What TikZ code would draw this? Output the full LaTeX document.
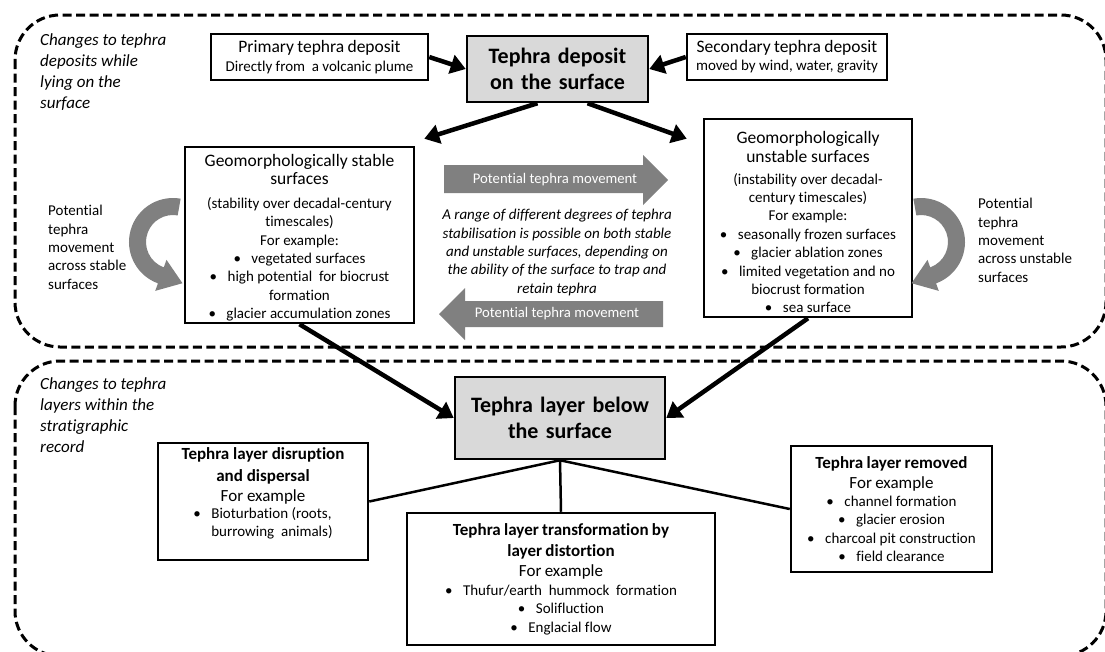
\documentclass[tikz,border=0pt]{standalone}
\usepackage{fontspec}
\setmainfont{Carlito}[Ligatures=NoCommon]
\usetikzlibrary{arrows.meta,calc}

\definecolor{boxgray}{HTML}{D9D9D9}
\definecolor{movegray}{HTML}{808080}

\newcommand\hdfont{\fontsize{17.5}{19.5}\selectfont}
\newcommand\bdfont{\fontsize{15}{18.4}\selectfont}
\newcommand\exfont{\fontsize{17}{20}\selectfont}
\newcommand\bgfont{\fontsize{22}{26}\selectfont\bfseries}
\newcommand\scfont{\itshape\fontsize{17}{21}\selectfont}
\newcommand\itm{\textbullet\hspace{0.7em}}

\tikzset{
  box/.style={draw, line width=2.5pt, align=center, inner sep=0pt},
  mainbox/.style={box, fill=boxgray, font=\bgfont},
  sized/.style 2 args={minimum width=#1pt, text width=#1pt, minimum height=#2pt},
  region/.style={line width=3pt, dash pattern=on 9pt off 4.5pt, rounded corners=45pt},
  feed/.style={line width=4.5pt, -{Triangle[length=15pt,width=19pt]}},
  branch/.style={line width=2.5pt},
  note/.style={inner sep=0pt, align=left, anchor=north west},
  movetext/.style={text=white, inner sep=0pt, font=\fontsize{14.7}{17}\selectfont},
}

\begin{document}
\begin{tikzpicture}[x=1pt,y=-1pt]
  \useasboundingbox (0,0) rectangle (1105,651);
  % \draw[help lines, step=50] (0,0) grid (1105,651);

  % the two stages
  \draw[region] (15,15) rectangle (1106,347);
  \draw[region] (15,361) rectangle (1106,656);
  \draw (40,33) node[note, font=\scfont] (surfnote) {Changes to tephra\\ deposits while\\ lying on the\\ surface};
  \draw (40,377) node[note, font=\scfont] (stratnote) {Changes to tephra\\ layers within the\\ stratigraphic\\ record};

  % deposition
  \draw (319.5,57) node[box, sized={217}{46}] (primary) {{\hdfont Primary tephra deposit\par}{\bdfont Directly from\ \ a volcanic plume\par}};
  \draw (557.5,69) node[mainbox, sized={181}{66}] (topgrey) {Tephra deposit\\ on the surface};
  \draw (787,57) node[box, sized={200}{46}] (secondary) {{\hdfont Secondary tephra deposit\par}{\bdfont moved by wind, water, gravity\par}};

  % surfaces
  \draw (299.5,235) node[box, minimum width=229pt, minimum height=176pt] (stable) {\parbox[c][176pt][c]{229pt}{\centering\vspace*{6pt}{\fontsize{17.5}{18}\selectfont Geomorphologically stable\\ surfaces\par}\vspace{5pt}{\bdfont (stability over decadal-century\\ timescales)\\ For example:\\ \itm vegetated surfaces\\ \itm high potential\ \ for biocrust\\ formation\\ \itm glacier accumulation zones\par}}};
  \draw (808,218) node[box, minimum width=208pt, minimum height=198pt] (unstable) {\parbox[c][198pt][c]{208pt}{\centering\vspace*{8pt}{\hdfont Geomorphologically\\ unstable surfaces\par}\vspace{3pt}{\bdfont (instability over decadal-\\ century timescales)\\ For example:\\ \itm seasonally frozen surfaces\\ \itm glacier ablation zones\\ \itm limited vegetation and no\\ biocrust formation\\ \itm sea surface\par}}};

  \fill[movegray] (444,165) -- (643,165) -- (643,155) -- (668,180) -- (643,205) -- (643,193) -- (444,193) -- cycle;
  \draw (555,180) node[movetext] (moveright) {Potential tephra movement};
  \fill[movegray] (663,301) -- (465,301) -- (465,288) -- (439,314) -- (465,340) -- (465,327) -- (663,327) -- cycle;
  \draw (557,314) node[movetext] (moveleft) {Potential tephra movement};
  \draw (557,209) node[inner sep=0pt, anchor=north, align=center, font=\itshape\fontsize{15}{18.4}\selectfont] (range) {A range of different degrees of tephra\\ stabilisation is possible on both stable\\ and unstable surfaces, depending on\\ the ability of the surface to trap and\\ retain tephra};

  % movement on one kind of surface
  \coordinate (lc) at (173,242);
  \coordinate (rc) at (921,242);
  \fill[movegray] ($(lc)+(-80:44)$) arc[start angle=-80, end angle=-250, radius=44] -- ($(lc)+(-250:52)$) -- ($(lc)+(-250:35.5)+(20:23)$) -- ($(lc)+(-250:19)$) -- ($(lc)+(-250:27)$) arc[start angle=-250, end angle=-80, radius=27] -- cycle;
  \fill[movegray] ($(rc)+(-100:44)$) arc[start angle=-100, end angle=70, radius=44] -- ($(rc)+(70:52)$) -- ($(rc)+(70:35.5)+(160:23)$) -- ($(rc)+(70:19)$) -- ($(rc)+(70:27)$) arc[start angle=70, end angle=-100, radius=27] -- cycle;
  \draw (48,205) node[note, font=\bdfont] (stablemove) {Potential\\ tephra\\ movement\\ across stable\\ surfaces};
  \draw (978,198) node[note, font=\bdfont] (unstablemove) {Potential\\ tephra\\ movement\\ across unstable\\ surfaces};

  % burial
  \draw (560,418) node[mainbox, sized={210}{82}] (below) {Tephra layer below\\ the surface};
  \draw (263,501.5) node[box, minimum width=210pt, minimum height=117pt] (disrupt) {\parbox[c][117pt][t]{210pt}{\centering\vspace*{5pt}{\bfseries\fontsize{17}{22}\selectfont Tephra layer disruption\\ and dispersal\par}{\exfont For example\par}{\bdfont\begin{tabular}{@{}l@{\hspace{0.7em}}l@{}}\textbullet & Bioturbation (roots,\\ & burrowing\ \ animals)\end{tabular}\par}}};
  \draw (561,579) node[box, sized={308}{132}] (distort) {{\bfseries\fontsize{17}{21.5}\selectfont Tephra layer transformation by\\ layer distortion\par}{\exfont For example\par}{\bdfont \itm Thufur/earth\ \ hummock\ \ formation\\ \itm Solifluction\\ \itm Englacial flow\par}};
  \draw (891.5,509) node[box, sized={201}{126}] (removed) {{\bfseries\fontsize{17}{21}\selectfont Tephra layer removed\par}{\exfont For example\par}{\bdfont \itm channel formation\\ \itm glacier erosion\\ \itm charcoal pit construction\\ \itm field clearance\par}};

  \draw[feed] (primary.east) -- (topgrey.west);
  \draw[feed] (secondary.west) -- (topgrey.east);
  \draw[feed] ($(topgrey.south)+(-20,0)$) -- ($(stable.north east)+(9,-7)$);
  \draw[feed] ($(topgrey.south)+(30,0)$) -- ($(unstable.north west)+(-16,21)$);
  \draw[feed] (stable.south) -- (below.west);
  \draw[feed] (unstable.south) -- (below.east);
  \draw[branch] (below.south) -- (disrupt.east);
  \draw[branch] (below.south) -- (distort.north);
  \draw[branch] (below.south) -- (removed.west);
\end{tikzpicture}
\end{document}
